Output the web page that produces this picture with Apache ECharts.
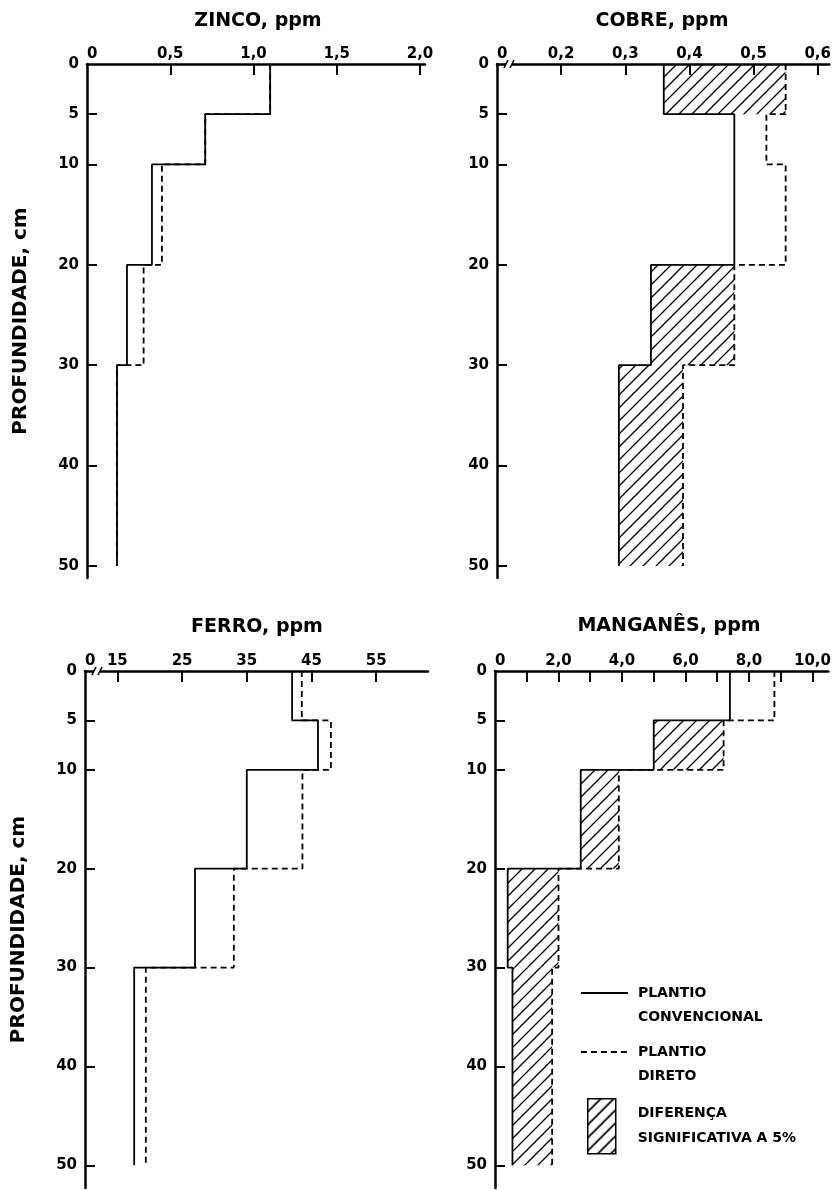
<!DOCTYPE html>
<html><head><meta charset="utf-8">
<script src="https://cdn.jsdelivr.net/npm/echarts@6/dist/echarts.min.js"></script>
<style>html,body{margin:0;padding:0;background:#fff}#c{width:834px;height:1190px}</style>
</head><body><div id="c"></div>
<script>
// ---- data ----
const depths = [0, 5, 10, 20, 30, 50];
const znConv = [1.10, 0.71, 0.39, 0.24, 0.18];
const znDir  = [1.10, 0.71, 0.45, 0.34, 0.18];
const znSig  = [0, 0, 0, 0, 0];
const cuConv = [0.36, 0.47, 0.47, 0.34, 0.29];
const cuDir  = [0.55, 0.52, 0.55, 0.47, 0.39];
const cuSig  = [1, 0, 0, 1, 1];
const feConv = [42, 46, 35, 27, 17.6];
const feDir  = [43.5, 48, 43.6, 33, 19.4];
const feSig  = [0, 0, 0, 0, 0];
const mnConv = [7.4, 5.0, 2.7, 0.4, 0.55];
const mnDir  = [8.8, 7.2, 3.9, 2.0, 1.8];
const mnSig  = [0, 1, 1, 1, 1];
const titles = ['ZINCO, ppm', 'COBRE, ppm', 'FERRO, ppm', 'MANGANÊS, ppm'];
const depthLabels = [0, 5, 10, 20, 30, 40, 50];
const znTicks = [0.5, 1.0, 1.5, 2.0];
const cuTicks = [0.2, 0.3, 0.4, 0.5, 0.6];
const feTicks = [15, 25, 35, 45, 55];
const mnTicks = [1, 2, 3, 4, 5, 6, 7, 8, 9, 10];
const mnLabels = [0, 2, 4, 6, 8, 10];
const legendNames = ['PLANTIO CONVENCIONAL', 'PLANTIO DIRETO', 'DIFERENÇA SIGNIFICATIVA A 5%'];
const yName = 'PROFUNDIDADE, cm';

const FONT = 'DejaVu Sans';
const chart = echarts.init(document.getElementById('c'), null, {renderer: 'canvas'});

function hatchPattern(lw) {
  const s = 13;
  const c = document.createElement('canvas');
  c.width = s; c.height = s;
  const g = c.getContext('2d');
  g.strokeStyle = '#000'; g.lineWidth = lw;
  g.beginPath();
  g.moveTo(0, s); g.lineTo(s, 0);
  g.moveTo(-2, 2); g.lineTo(2, -2);
  g.moveTo(s - 2, s + 2); g.lineTo(s + 2, s - 2);
  g.stroke();
  return {image: c, repeat: 'repeat'};
}
const HATCH = hatchPattern(1.3);
const HATCH_LEGEND = hatchPattern(1.8);

function steps(vals) {
  const pts = [];
  vals.forEach((v, i) => { pts.push([v, depths[i]]); pts.push([v, depths[i + 1]]); });
  return pts;
}
function sigBoxes(conv, dir, sig) {
  const out = [];
  sig.forEach((s, i) => { if (s) out.push([conv[i], dir[i], depths[i], depths[i + 1]]); });
  return out;
}

const panels = [
  {title: titles[0], conv: znConv, dir: znDir, sig: znSig, xMin: 0, xMax: 2.03, ticks: znTicks, labels: [0].concat(znTicks), dec: 1,
   grid: {left: 87, top: 64, width: 338, height: 514}, yMax: 51.2, titlePos: [258, 12], yName: true, brk: false},
  {title: titles[1], conv: cuConv, dir: cuDir, sig: cuSig, xMin: 0.1, xMax: 0.618, ticks: cuTicks, labels: [0.1].concat(cuTicks), dec: 1,
   grid: {left: 497, top: 64, width: 337, height: 514}, yMax: 51.2, titlePos: [662, 12], yName: false, brk: true},
  {title: titles[2], conv: feConv, dir: feDir, sig: feSig, xMin: 10, xMax: 63, ticks: feTicks, labels: [10].concat(feTicks), dec: 0,
   grid: {left: 85, top: 671, width: 343, height: 517}, yMax: 52.3, titlePos: [257, 618], yName: true, brk: true},
  {title: titles[3], conv: mnConv, dir: mnDir, sig: mnSig, xMin: 0, xMax: 10.5, ticks: mnTicks, labels: mnLabels, dec: 1,
   grid: {left: 495, top: 671, width: 339, height: 517}, yMax: 52.3, titlePos: [669, 617], yName: false, brk: false}
];

const txt = (size) => ({fontFamily: FONT, fontSize: size, fontWeight: 'bold', color: '#000'});

const option = {animation: false, backgroundColor: '#fff', title: [], grid: [], xAxis: [], yAxis: [], series: [], legend: []};

panels.forEach((p, k) => {
  option.title.push({text: p.title, left: p.titlePos[0], top: p.titlePos[1], textAlign: 'center', padding: 0, textStyle: txt(19)});
  option.grid.push(Object.assign({containLabel: false}, p.grid));
  option.xAxis.push({
    type: 'value', gridIndex: k, position: 'top', min: p.xMin, max: p.xMax,
    axisLine: {show: true, onZero: false, lineStyle: {color: '#000', width: 2.5}},
    axisTick: {show: true, inside: true, length: 11, customValues: p.ticks, lineStyle: {color: '#000', width: 2}},
    axisLabel: Object.assign({show: true, customValues: p.labels, margin: 2, alignMinLabel: 'left',
      formatter: (v) => Math.abs(v - p.xMin) < 1e-9 ? '0' : Number(v).toFixed(p.dec).replace('.', ',')}, txt(15)),
    splitLine: {show: false}
  });
  option.yAxis.push({
    type: 'value', gridIndex: k, inverse: true, min: 0, max: p.yMax,
    axisLine: {show: true, onZero: false, lineStyle: {color: '#000', width: 2.5}},
    axisTick: {show: true, inside: true, length: 10, customValues: depthLabels.slice(1), lineStyle: {color: '#000', width: 2}},
    axisLabel: Object.assign({show: true, customValues: depthLabels, margin: 8}, txt(15)),
    splitLine: {show: false},
    name: p.yName ? yName : '', nameLocation: 'middle', nameRotate: 90, nameGap: 56, nameTextStyle: txt(20)
  });
  const boxes = sigBoxes(p.conv, p.dir, p.sig);
  if (boxes.length) {
    option.series.push({
      type: 'custom', name: legendNames[2], xAxisIndex: k, yAxisIndex: k, z: 1, silent: true,
      itemStyle: {color: HATCH}, encode: {x: [0, 1], y: [2, 3]},
      renderItem: (params, api) => {
        const a = api.value(0), b = api.value(1), d1 = api.value(2), d2 = api.value(3);
        const p1 = api.coord([Math.min(a, b), d1]);
        const p2 = api.coord([Math.max(a, b), d2]);
        return {type: 'rect', shape: {x: p1[0], y: p1[1], width: p2[0] - p1[0], height: p2[1] - p1[1]}, style: {fill: HATCH}};
      },
      data: boxes
    });
  }
  option.series.push({type: 'line', name: legendNames[1], xAxisIndex: k, yAxisIndex: k, data: steps(p.dir), symbol: 'none', z: 2, silent: true,
    itemStyle: {color: '#000'}, lineStyle: {color: '#000', width: 1.8, type: [6, 4]}});
  option.series.push({type: 'line', name: legendNames[0], xAxisIndex: k, yAxisIndex: k, data: steps(p.conv), symbol: 'none', z: 3, silent: true,
    itemStyle: {color: '#000'}, lineStyle: {color: '#000', width: 1.8, type: 'solid'}});
});

// legend text: first word on the line level of the icon, the rest below it
const legendFmtTop = (name) => '\n' + name.replace(' ', '\n');
const legendFmt = (name) => name.replace(' ', '\n');
const hidden = {color: 'rgba(0,0,0,0)', borderColor: 'rgba(0,0,0,0)', borderWidth: 0};
option.legend = [
  {data: [legendNames[0]], left: 580, top: 957, padding: 0, selectedMode: false, itemWidth: 47, itemHeight: 14,
   itemStyle: hidden, lineStyle: {width: 1.8, color: '#000'}, formatter: legendFmtTop,
   textStyle: Object.assign({lineHeight: 24, padding: [0, 0, 0, 5]}, txt(14))},
  {data: [legendNames[1]], left: 580, top: 1016, padding: 0, selectedMode: false, itemWidth: 47, itemHeight: 14,
   itemStyle: hidden, lineStyle: {width: 1.8, color: '#000'}, formatter: legendFmtTop,
   textStyle: Object.assign({lineHeight: 24, padding: [0, 0, 0, 5]}, txt(14))},
  {data: [legendNames[2]], left: 587, top: 1098, padding: 0, selectedMode: false, itemWidth: 28, itemHeight: 55, icon: 'rect',
   itemStyle: {color: HATCH_LEGEND, borderColor: '#000', borderWidth: 1.5}, formatter: legendFmt,
   textStyle: Object.assign({lineHeight: 25, padding: [0, 0, 0, 17]}, txt(14))}
];

chart.setOption(option);

// axis-break marks near the origin of the broken axes
const brkEls = [];
panels.forEach((p, k) => {
  if (!p.brk) return;
  const o = chart.convertToPixel({gridIndex: k}, [p.xMin, 0]);
  const x = o[0] + 12, y = o[1];
  brkEls.push({type: 'rect', z: 100, shape: {x: x - 3, y: y - 3, width: 6, height: 6}, style: {fill: '#fff'}});
  brkEls.push({type: 'line', z: 101, shape: {x1: x - 5, y1: y + 4, x2: x - 1, y2: y - 4}, style: {stroke: '#000', lineWidth: 1.5}});
  brkEls.push({type: 'line', z: 101, shape: {x1: x + 1, y1: y + 4, x2: x + 5, y2: y - 4}, style: {stroke: '#000', lineWidth: 1.5}});
});
chart.setOption({graphic: brkEls});
</script>
</body></html>
